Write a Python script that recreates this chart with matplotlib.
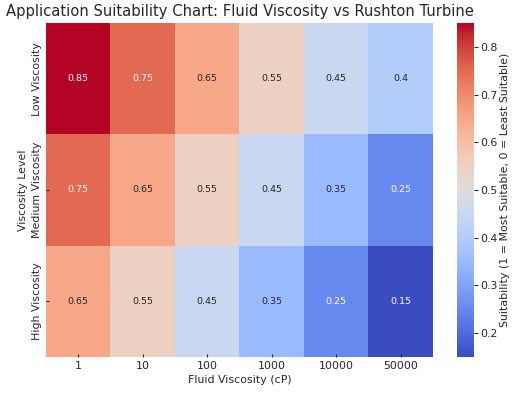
import matplotlib
matplotlib.use("Agg")
import matplotlib.pyplot as plt
import seaborn as sns
import numpy as np
import pandas as pd

viscosities = ["1", "10", "100", "1000", "10000", "50000"]
levels = ["Low Viscosity", "Medium Viscosity", "High Viscosity"]
low = [0.85, 0.75, 0.65, 0.55, 0.45, 0.4]
medium = [0.75, 0.65, 0.55, 0.45, 0.35, 0.25]
high = [0.65, 0.55, 0.45, 0.35, 0.25, 0.15]

df = pd.DataFrame([low, medium, high], index=levels, columns=viscosities)

tc = "#262626"
plt.rcParams.update({"text.color": tc, "axes.labelcolor": tc,
                     "xtick.color": tc, "ytick.color": tc})

fig = plt.figure(figsize=(5.15, 3.93), dpi=100)
ax = fig.add_axes([46/515, 36/393, 387/515, 334/393])
cax = fig.add_axes([457/515, 36/393, 17/515, 334/393])
sns.heatmap(df, annot=True, cmap="coolwarm", ax=ax, cbar_ax=cax,
            annot_kws={"fontsize": 6.8},
            cbar_kws={"label": "Suitability (1 = Most Suitable, 0 = Least Suitable)"})
ax.set_title("Application Suitability Chart: Fluid Viscosity vs Rushton Turbine",
             fontsize=10.6, color=tc, pad=5)
ax.set_xlabel("Fluid Viscosity (cP)", fontsize=7.9, labelpad=3)
ax.set_ylabel("Viscosity Level", fontsize=7.9, labelpad=3)
ax.tick_params(labelsize=7.9, direction="in", length=2.5, pad=3)
cax.tick_params(labelsize=7.9, length=3, pad=1.5)
cax.yaxis.label.set_size(7.9)
cax.yaxis.labelpad = 2
fig.savefig("out.png", dpi=100)
